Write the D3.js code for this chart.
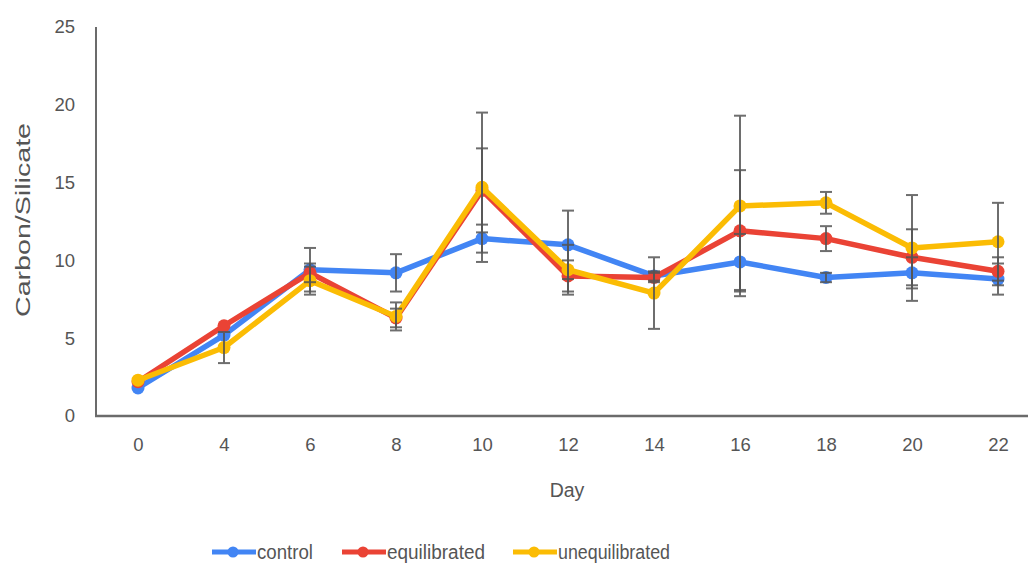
<!DOCTYPE html>
<html><head><meta charset="utf-8">
<script src="https://cdn.jsdelivr.net/npm/d3@7"></script>
<style>body{margin:0;background:#fff}svg{display:block}text{font-family:"Liberation Sans",Arial,sans-serif;fill:#555}</style>
</head><body>
<svg id="c" width="1028" height="569"></svg>
<script>
const days = ["0","4","6","8","10","12","14","16","18","20","22"];
const yTicks = [0,5,10,15,20,25];
const seriesNames = ["control","equilibrated","unequilibrated"];
const seriesColors = ["#4285F4","#EA4335","#FBBC04"];
const control        = [1.8, 5.2, 9.4, 9.2, 11.4, 11.0, 9.0, 9.9, 8.9, 9.2, 8.8];
const controlErr     = [0, 0, 1.4, 1.2, 0.9, 2.2, 0.3, 1.8, 0.3, 1.0, 1.0];
const equilibrated   = [2.2, 5.8, 9.2, 6.3, 14.5, 9.0, 8.9, 11.9, 11.4, 10.2, 9.3];
const equilibratedErr= [0, 0, 0.6, 0.6, 2.7, 1.0, 0.3, 3.9, 0.8, 1.8, 0.9];
const unequilibrated = [2.3, 4.4, 8.7, 6.4, 14.7, 9.4, 7.9, 13.5, 13.7, 10.8, 11.2];
const unequilibratedErr=[0, 1.0, 0.9, 0.9, 4.8, 1.6, 2.3, 5.8, 0.7, 3.4, 2.5];

const values = [control, equilibrated, unequilibrated];
const errs = [controlErr, equilibratedErr, unequilibratedErr];

const svg = d3.select("#c");
const x = d3.scalePoint().domain(days).range([138, 998]);
const y = d3.scaleLinear().domain([0, 25]).range([416, 27]);

// axes
const gx = svg.append("g").attr("transform","translate(0,416)")
  .call(d3.axisBottom(x).tickSize(0).tickPadding(22));
gx.select(".domain").remove();
gx.selectAll("text").attr("font-size",18.5).style("fill","#555");
const gy = svg.append("g").attr("transform","translate(75,0)")
  .call(d3.axisLeft(y).tickValues(yTicks).tickSize(0).tickPadding(0));
gy.select(".domain").remove();
gy.selectAll("text").attr("font-size",18.5).style("fill","#555");

svg.append("line").attr("x1",96).attr("x2",96).attr("y1",y(25)).attr("y2",y(0)+1)
  .attr("stroke","#6b6b6b").attr("stroke-width",2);
svg.append("line").attr("x1",95).attr("x2",1028).attr("y1",y(0)).attr("y2",y(0))
  .attr("stroke","#6b6b6b").attr("stroke-width",2.5);

// series
const line = d3.line().x((d,i)=>x(days[i])).y(d=>y(d));
values.forEach((vals, s) => {
  const g = svg.append("g");
  g.append("path").datum(vals).attr("d", line).attr("fill","none")
    .attr("stroke", seriesColors[s]).attr("stroke-width",5.5).attr("stroke-linejoin","round");
  g.selectAll("circle").data(vals).join("circle")
    .attr("cx",(d,i)=>x(days[i])).attr("cy",d=>y(d)).attr("r",6.5).attr("fill",seriesColors[s]);
});
// error bars
values.forEach((vals, s) => {
  const g = svg.append("g").attr("stroke","#555").attr("stroke-width",2).attr("opacity",0.85);
  vals.forEach((v,i) => {
    const e = errs[s][i], cx = x(days[i]);
    if (!e) return;
    g.append("line").attr("x1",cx).attr("x2",cx).attr("y1",y(v+e)).attr("y2",y(v-e));
    g.append("line").attr("x1",cx-6).attr("x2",cx+6).attr("y1",y(v+e)).attr("y2",y(v+e));
    g.append("line").attr("x1",cx-6).attr("x2",cx+6).attr("y1",y(v-e)).attr("y2",y(v-e));
  });
});

// axis titles
svg.append("text").attr("x",567).attr("y",497).attr("text-anchor","middle").attr("font-size",19.5).text("Day");
svg.append("text").attr("transform","translate(30,220) rotate(-90)").attr("text-anchor","middle")
  .attr("font-size",21).attr("textLength",194).attr("lengthAdjust","spacingAndGlyphs").text("Carbon/Silicate");

// legend
const legX = [212, 342, 513];
const legW = [56, 98, 112];
seriesNames.forEach((n, s) => {
  const lg = svg.append("g").attr("transform",`translate(${legX[s]},552)`);
  lg.append("line").attr("x1",0).attr("x2",44).attr("y1",0).attr("y2",0)
    .attr("stroke",seriesColors[s]).attr("stroke-width",5);
  lg.append("circle").attr("cx",21).attr("cy",0).attr("r",5.5).attr("fill",seriesColors[s]);
  lg.append("text").attr("x",45).attr("y",7).attr("font-size",19.5)
    .attr("textLength",legW[s]).attr("lengthAdjust","spacingAndGlyphs").text(n);
});
</script>
</body></html>
